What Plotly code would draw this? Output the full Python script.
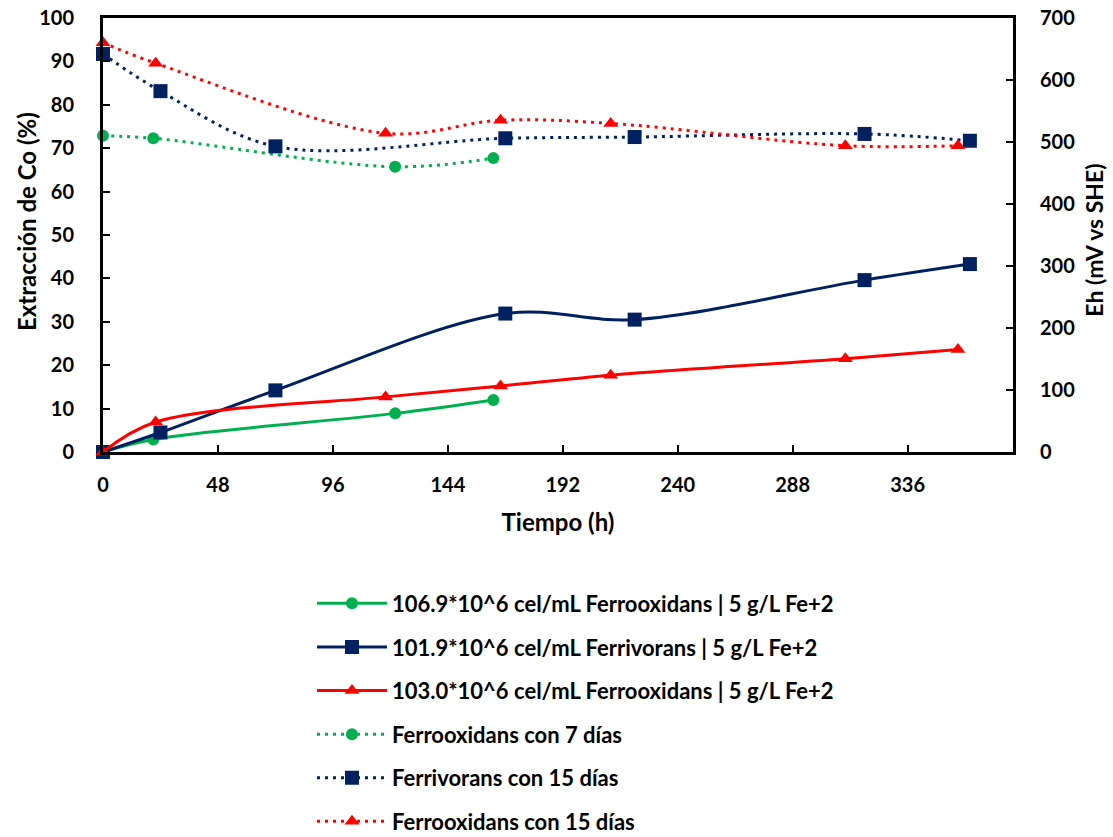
import plotly.graph_objects as go

# ---- data ----
t_green = [0, 21, 122, 163]
co_green = [0, 2.9, 8.9, 12.0]
eh_green = [510, 506, 460, 474]

t_blue = [0, 24, 72, 168, 222, 318, 362]
co_blue = [0, 4.5, 14.2, 31.9, 30.5, 39.6, 43.3]
eh_blue = [642, 582, 493, 506, 508, 513, 502]

t_red = [0, 22, 118, 166, 212, 310, 357]
co_red = [0, 6.9, 12.7, 15.2, 17.7, 21.5, 23.6]
eh_red = [660, 627, 514, 535, 530, 494, 494]

names_solid = [
    "106.9*10^6 cel/mL Ferrooxidans | 5 g/L Fe+2",
    "101.9*10^6 cel/mL Ferrivorans | 5 g/L Fe+2",
    "103.0*10^6 cel/mL Ferrooxidans | 5 g/L Fe+2",
]
names_dot = [
    "Ferrooxidans con 7 días",
    "Ferrivorans con 15 días",
    "Ferrooxidans con 15 días",
]
x_ticks = [0, 48, 96, 144, 192, 240, 288, 336]

GREEN = "#00B050"
BLUE = "#002060"
RED = "#FF0000"
FONT = "Lato"

fig = go.Figure()

series = [
    (t_green, co_green, eh_green, GREEN, "circle", 12),
    (t_blue, co_blue, eh_blue, BLUE, "square", 14),
    (t_red, co_red, eh_red, RED, "triangle-up", 13),
]

for i, (t, co, eh, col, sym, sz) in enumerate(series):
    fig.add_trace(go.Scatter(
        x=t, y=co, name=names_solid[i], mode="lines+markers",
        line=dict(color=col, width=3, shape="spline", smoothing=1),
        marker=dict(color=col, symbol=sym, size=sz),
        cliponaxis=False, legendgroup=f"s{i}",
    ))
for i, (t, co, eh, col, sym, sz) in enumerate(series):
    fig.add_trace(go.Scatter(
        x=t, y=eh, name=names_dot[i], mode="lines+markers", yaxis="y2",
        line=dict(color=col, width=3, dash="3px,5px", shape="spline", smoothing=1),
        marker=dict(color=col, symbol=sym, size=sz),
        cliponaxis=False, legendgroup=f"d{i}",
    ))

tick_font = dict(family=FONT, size=20, color="#000000", weight="bold")
title_font = dict(family=FONT, size=24, color="#000000", weight="bold")
title_font_r = dict(family=FONT, size=23, color="#000000", weight="bold")

fig.update_layout(
    width=1113, height=837,
    margin=dict(l=103, r=100, t=18, b=385, autoexpand=False),
    paper_bgcolor="white", plot_bgcolor="white",
    font=dict(family=FONT, size=20, color="#000000"),
    showlegend=True,
    legend=dict(
        xref="container", yref="container",
        x=0.2803, y=0.304, xanchor="left", yanchor="top",
        font=dict(family=FONT, size=22, color="#000000", weight="bold"),
        tracegroupgap=12, itemwidth=70,
        bgcolor="rgba(0,0,0,0)",
    ),
    xaxis=dict(
        range=[0, 380], tickvals=x_ticks, ticktext=[str(v) for v in x_ticks],
        tickangle=0,
        showgrid=False, zeroline=False,
        showline=True, linecolor="black", linewidth=3, mirror=True,
        ticks="inside", ticklen=7, tickwidth=2, tickcolor="black",
        tickfont=tick_font, ticklabelstandoff=13,
        title=dict(text="Tiempo (h)", font=title_font, standoff=20),
    ),
    yaxis=dict(
        range=[0, 100], dtick=10,
        showgrid=False, zeroline=False,
        showline=True, linecolor="black", linewidth=3,
        ticks="inside", ticklen=7, tickwidth=2, tickcolor="black",
        tickfont=tick_font, ticklabelstandoff=22,
    ),
    yaxis2=dict(
        range=[0, 700], dtick=100, overlaying="y", side="right",
        showgrid=False, zeroline=False,
        showline=True, linecolor="black", linewidth=3,
        ticks="inside", ticklen=7, tickwidth=2, tickcolor="black",
        tickfont=tick_font, ticklabelstandoff=20,
    ),
    annotations=[
        dict(text="Extracción de Co (%)", xref="paper", yref="paper",
             x=-0.0835, y=0.53, textangle=-90, showarrow=False,
             xanchor="center", yanchor="middle", font=title_font),
        dict(text="Eh (mV vs SHE)", xref="paper", yref="paper",
             x=1.0895, y=0.488, textangle=-90, showarrow=False,
             xanchor="center", yanchor="middle", font=title_font_r),
    ],
)

fig.write_html("out.html")
